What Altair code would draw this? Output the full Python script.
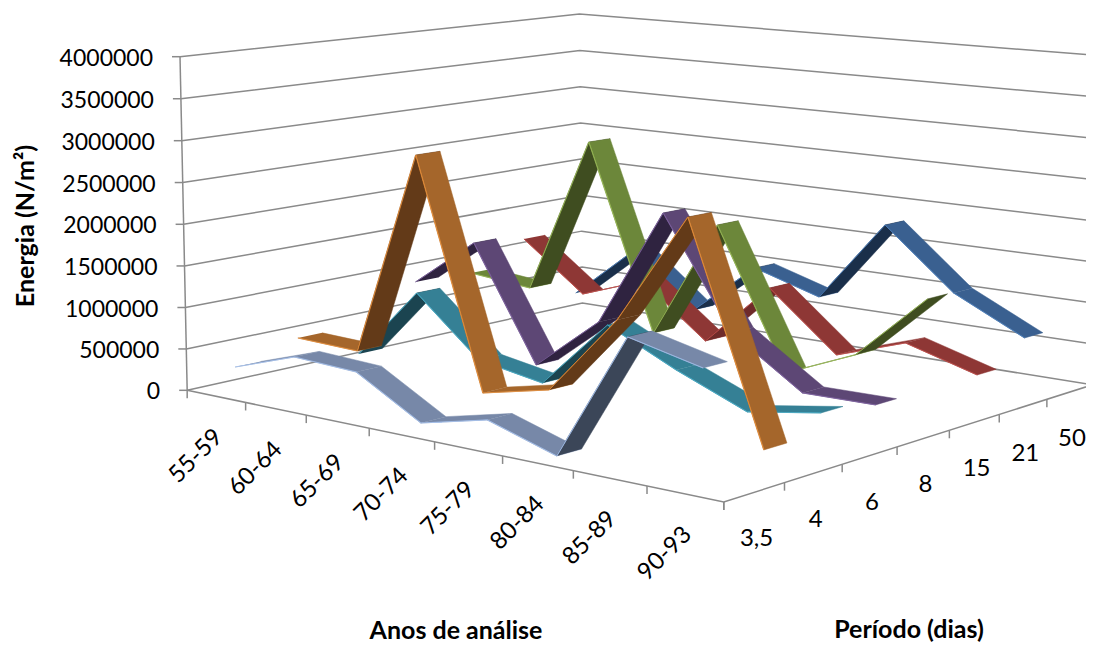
import altair as alt, numpy as np, pandas as pd

cats = ["55-59","60-64","65-69","70-74","75-79","80-84","85-89","90-93"]
series = ["3,5","4","6","8","15","21","50"]
ticks = [0,500000,1000000,1500000,2000000,2500000,3000000,3500000,4000000]
v35 = [301000,559000,522000,80000,266000,21000,1459000,1266000]
v4 = [490000,466000,2917000,247000,427000,1356000,2612000,212000]
v6 = [128000,1018000,328000,191000,1014000,627000,293000,431000]
v8 = [889000,1500000,100000,763000,2193000,893000,332000,341000]
v15 = [861000,787000,2749000,470000,1921000,252000,606000,1391000]
v21 = [1173000,561000,852000,209000,1006000,304000,586000,340000]
v50 = [303000,990000,325000,997000,744000,1770000,1041000,619000]
values = [v35,v4,v6,v8,v15,v21,v50]
light = ["#7788A8","#A5662B","#358095","#5D4775","#6C873A","#8E3735","#3A6090"]
dark = ["#3B4658","#633A18","#1B4450","#2F2340","#3F4D20","#6F2B2A","#1A2F4A"]
edge = ["#A8C4F0","#E8903C","#4BACC6","#8064A2","#9BBB59","#C0504D","#4F81BD"]
D = 0.2

world = np.array([[0,0,0],[1,0,0],[1,1,0],[0,1,0],[0,0,1],[0,1,1],[1,1,1]],float)
screen = np.array([[188,390],[724,502],[1093,385],[581,303],[179,57],[581,14],[1093,55]],float)
A=[];b=[]
for (X,Y,Z),(u,v) in zip(world,screen):
    A.append([X,Y,Z,1,0,0,0,0,-u*X,-u*Y,-u*Z]);b.append(u)
    A.append([0,0,0,0,X,Y,Z,1,-v*X,-v*Y,-v*Z]);b.append(v)
h=np.linalg.lstsq(np.array(A),np.array(b),rcond=None)[0]
P=np.append(h,1).reshape(3,4)
def proj(x,z,v):
    p=P@np.array([x,z,v/4000000,1.0]); return p[0]/p[2],p[1]/p[2]

rows=[];lines=[];pid=0
def poly(pts,col):
    global pid
    for k,(x,y) in enumerate(pts):
        rows.append(dict(x=x,y=y,k=k,id=f"p{pid:05d}",c=col))
    pid+=1
for s in range(6,-1,-1):
    zf=(s+.5-D)/7; zb=(s+.5+D)/7; ze=zf+0.001
    for i in range(7):
        x0=(i+.5)/8;x1=(i+1.5)/8;v0=values[s][i];v1=values[s][i+1]
        q=[proj(x0,zf,v0),proj(x1,zf,v1),proj(x1,zb,v1),proj(x0,zb,v0)]
        area=sum(q[j][0]*q[(j+1)%4][1]-q[(j+1)%4][0]*q[j][1] for j in range(4))
        poly(q,dark[s] if area>0 else light[s])
        poly([proj(x0,zf,v0),proj(x1,zf,v1),proj(x1,ze,v1),proj(x0,ze,v0)],edge[s])
df=pd.DataFrame(rows)

def seg(pts):
    global pid
    for k,(x,y) in enumerate(pts):
        lines.append(dict(x=x,y=y,k=k,id=f"l{pid:05d}"))
    pid+=1
for t in ticks:
    seg([proj(0,0,t),proj(0,1,t),proj(1,1,t)])
    a=proj(0,0,t); seg([(a[0]-8,a[1]),a])
seg([proj(0,0,0),proj(0,0,4000000)])
seg([proj(0,0,0),proj(1,0,0),proj(1,1,0)])
for i in range(9):
    a=proj(i/8,0,0); seg([a,(a[0],a[1]+8)])
for i in range(8):
    a=proj(1,i/7,0); seg([a,(a[0],a[1]+8)])
ln=pd.DataFrame(lines)

W,H=1078,636
sx=alt.Scale(domain=[8,8+W],range=[0,W]);sy=alt.Scale(domain=[8,8+H],range=[0,H])
X=alt.X('x:Q',scale=sx,axis=None);Y=alt.Y('y:Q',scale=sy,axis=None)
axes=alt.Chart(ln).mark_line(color="#8a8a8a",strokeWidth=1.5,clip=False).encode(X,Y,detail='id:N',order='k:Q')
rib=alt.Chart(df).mark_line(filled=True,strokeWidth=0.5).encode(X,Y,detail='id:N',order='k:Q',fill=alt.Fill('c:N',scale=None),stroke=alt.Stroke('c:N',scale=None))

tx=[]
for t in ticks:
    a=proj(0,0,t); tx.append(dict(x=a[0]-27,y=a[1]+2,t=str(t)))
ylab=alt.Chart(pd.DataFrame(tx)).mark_text(font="Lato",fontSize=23,align="right",baseline="middle",color="#000").encode(X,Y,text='t:N')
cx=[]
for i,c in enumerate(cats):
    a=proj((i+.5)/8,0,0); cx.append(dict(x=a[0]-20,y=a[1]+60,t=c))
clab=alt.Chart(pd.DataFrame(cx)).mark_text(font="Lato",fontSize=24,angle=315,align="center",baseline="middle",color="#000").encode(X,Y,text='t:N')
sxl=[]
for i,c in enumerate(series):
    a=proj(1,(i+.5)/7,0); sxl.append(dict(x=a[0]+2,y=a[1]+47,t=c))
slab=alt.Chart(pd.DataFrame(sxl)).mark_text(font="Lato",fontSize=24,align="center",baseline="middle",color="#000").encode(X,Y,text='t:N')
titles=pd.DataFrame([dict(x=456,y=631,t="Anos de análise"),dict(x=909,y=630,t="Período (dias)")])
tit=alt.Chart(titles).mark_text(font="Lato",fontSize=25,fontWeight="bold",baseline="middle",color="#000").encode(X,Y,text='t:N')
tit2=alt.Chart(pd.DataFrame([dict(x=26,y=226,t="Energia (N/m²)")])).mark_text(font="Lato",fontSize=25,fontWeight="bold",angle=270,baseline="middle",color="#000").encode(X,Y,text='t:N')

chart=alt.layer(axes,rib,ylab,clab,slab,tit,tit2).properties(width=W,height=H,padding=0,autosize=alt.AutoSizeParams(type="none")).configure_view(stroke=None)
chart.save("out.html",embed_options={"renderer":"svg","actions":False})
